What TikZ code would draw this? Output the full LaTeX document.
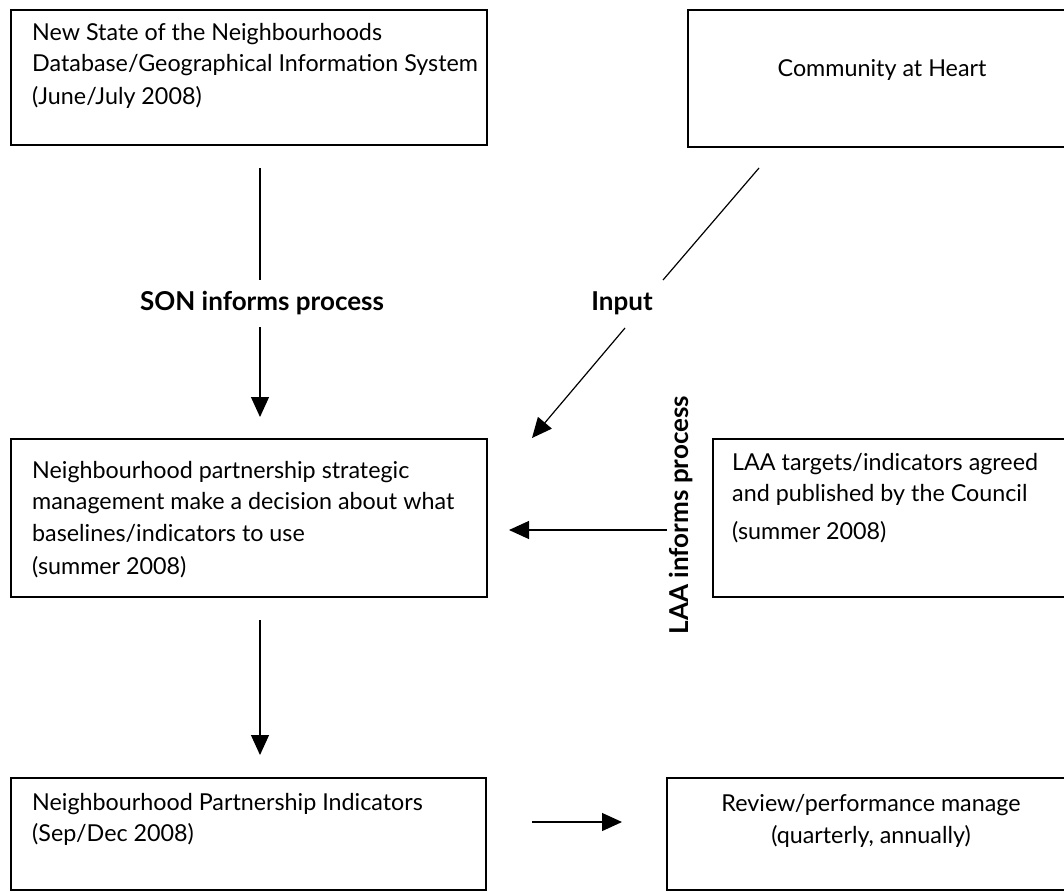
\documentclass[tikz,border=0pt]{standalone}
\usepackage{fontspec}
\setmainfont{Lato}
\usetikzlibrary{arrows.meta}
\begin{document}
\begin{tikzpicture}[x=1pt,y=-1pt,
  box/.style={draw, line width=2.6pt, rectangle, inner sep=0pt, outer sep=0pt},
  txt/.style={anchor=north west, align=left, inner sep=0pt, font=\fontsize{23.3}{31.5}\selectfont},
  ctxt/.style={align=center, inner sep=0pt, font=\fontsize{23.3}{32}\selectfont},
  lbl/.style={inner sep=0pt, font=\bfseries\fontsize{26}{30}\selectfont},
  ln/.style={line width=1.2pt},
  arr/.style={line width=1.2pt, -{Triangle[length=20pt,width=18pt]}}]
\useasboundingbox (0,0) rectangle (1064,891);
% boxes
\node[box, minimum width=476pt, minimum height=135pt] (b1) at (249,77.5) {};
\node[box, minimum width=388pt, minimum height=137pt] (b2) at (882,78.5) {};
\node[box, minimum width=476pt, minimum height=158pt] (b3) at (249,518) {};
\node[box, minimum width=363pt, minimum height=158pt] (b4) at (894.5,518) {};
\node[box, minimum width=475pt, minimum height=112pt] (b5) at (248.5,834) {};
\node[box, minimum width=408pt, minimum height=112pt] (b6) at (871,834) {};
% texts
\node[txt] (t1) at (32,23) {New State of the Neighbourhoods\\Database/Geographical Information System\\[1pt](June/July 2008)};
\node[ctxt] (t2) at (882,70) {Community at Heart};
\node[txt] (t3) at (32,461) {Neighbourhood partnership strategic\\management make a decision about what\\baselines/indicators to use\\[2pt](summer 2008)};
\node[txt] (t4) at (732,453) {LAA targets/indicators agreed\\and published by the Council\\[6pt](summer 2008)};
\node[txt] (t5) at (32,793) {Neighbourhood Partnership Indicators\\(Sep/Dec 2008)};
\node[ctxt] (t6) at (871,821) {Review/performance manage\\(quarterly, annually)};
% labels
\node[lbl] (son) at (262,303) {SON informs process};
\node[lbl] (inp) at (622,303) {Input};
\node[lbl, rotate=90] (laa) at (681,515) {LAA informs process};
% connector coordinates
\coordinate (sA) at (260,168);
\coordinate (sB) at (260,280);
\coordinate (sC) at (260,327);
\coordinate (sD) at (260,417);
\coordinate (iA) at (759,168);
\coordinate (iB) at (663,280);
\coordinate (iC) at (625,328);
\coordinate (iD) at (532,438);
\coordinate (lA) at (667,530);
\coordinate (lB) at (509,530);
\coordinate (dA) at (260,620);
\coordinate (dB) at (260,755);
\coordinate (rA) at (532,822);
\coordinate (rB) at (622,822);
% connectors
\draw[ln] (sA) -- (sB);
\draw[arr] (sC) -- (sD);
\draw[ln] (iA) -- (iB);
\draw[arr] (iC) -- (iD);
\draw[arr] (lA) -- (lB);
\draw[arr] (dA) -- (dB);
\draw[arr] (rA) -- (rB);
\end{tikzpicture}
\end{document}
